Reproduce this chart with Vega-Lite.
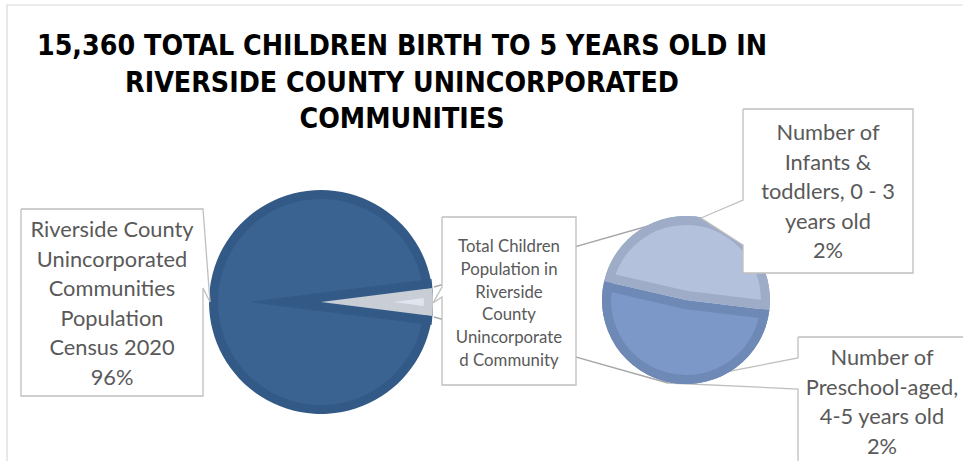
{
  "$schema": "https://vega.github.io/schema/vega-lite/v6.json",
  "width": 963,
  "height": 461,
  "autosize": "none",
  "padding": 0,
  "background": "white",
  "config": {"view": {"stroke": null}},
  "datasets": {
    "main": [
      {"seg": "Total Children Population in Riverside County Unincorporated Community", "v": 15360, "k": 0},
      {"seg": "Riverside County Unincorporated Communities Population Census 2020", "v": 368640, "k": 1}
    ],
    "kids": [
      {"seg": "Number of Infants & toddlers, 0 - 3 years old", "v": 7420, "k": 0},
      {"seg": "Number of Preschool-aged, 4-5 years old", "v": 7940, "k": 1}
    ],
    "connectors": [
      {"x": 434, "y": 287, "x2": 662, "y2": 222},
      {"x": 434, "y": 317, "x2": 668, "y2": 383}
    ],
    "callBack": [
      {"id": "pre", "i": 0, "x": 798, "y": 337},
      {"id": "pre", "i": 1, "x": 1000, "y": 337},
      {"id": "pre", "i": 2, "x": 1000, "y": 500},
      {"id": "pre", "i": 3, "x": 798, "y": 500},
      {"id": "pre", "i": 4, "x": 798, "y": 389},
      {"id": "pre", "i": 5, "x": 668, "y": 383},
      {"id": "pre", "i": 6, "x": 798, "y": 358},
      {"id": "pre", "i": 7, "x": 798, "y": 337}
    ],
    "callFront": [
      {"id": "left", "i": 0, "x": 21, "y": 209},
      {"id": "left", "i": 1, "x": 203, "y": 209},
      {"id": "left", "i": 2, "x": 210, "y": 302},
      {"id": "left", "i": 3, "x": 203, "y": 288},
      {"id": "left", "i": 4, "x": 203, "y": 396},
      {"id": "left", "i": 5, "x": 21, "y": 396},
      {"id": "left", "i": 6, "x": 21, "y": 209},
      {"id": "mid", "i": 0, "x": 442, "y": 217},
      {"id": "mid", "i": 1, "x": 576, "y": 217},
      {"id": "mid", "i": 2, "x": 576, "y": 385},
      {"id": "mid", "i": 3, "x": 442, "y": 385},
      {"id": "mid", "i": 4, "x": 442, "y": 297},
      {"id": "mid", "i": 5, "x": 433, "y": 303},
      {"id": "mid", "i": 6, "x": 442, "y": 287},
      {"id": "mid", "i": 7, "x": 442, "y": 217},
      {"id": "inf", "i": 0, "x": 743, "y": 109},
      {"id": "inf", "i": 1, "x": 913, "y": 109},
      {"id": "inf", "i": 2, "x": 913, "y": 273},
      {"id": "inf", "i": 3, "x": 743, "y": 273},
      {"id": "inf", "i": 4, "x": 743, "y": 245},
      {"id": "inf", "i": 5, "x": 701, "y": 218},
      {"id": "inf", "i": 6, "x": 743, "y": 200},
      {"id": "inf", "i": 7, "x": 743, "y": 109}
    ],
    "bigLabels": [
      {"text": ["Riverside County", "Unincorporated", "Communities", "Population", "Census 2020", "96%"], "x": 112, "y": 230},
      {"text": ["Number of", "Infants &", "toddlers, 0 - 3", "years old", "2%"], "x": 828, "y": 133},
      {"text": ["Number of", "Preschool-aged,", "4-5 years old", "2%"], "x": 882, "y": 358}
    ],
    "midLabel": [
      {"text": ["Total Children", "Population in", "Riverside", "County", "Unincorporate", "d Community"], "x": 509, "y": 247}
    ],
    "titleRow": [
      {"text": ["15,360 TOTAL CHILDREN BIRTH TO 5 YEARS OLD IN", "RIVERSIDE COUNTY UNINCORPORATED", "COMMUNITIES"], "x": 402, "y": 47}
    ]
  },
  "resolve": {"scale": {"theta": "independent"}},
  "layer": [
    {
      "data": {"values": [{}]},
      "mark": {"type": "rect", "fill": null, "stroke": "#d9d9d9", "strokeWidth": 1.2},
      "encoding": {
        "x": {"datum": 7, "type": "quantitative", "scale": {"domain": [0, 963], "nice": false, "zero": false}, "axis": null},
        "x2": {"datum": 1000},
        "y": {"datum": 5, "type": "quantitative", "scale": {"domain": [0, 461], "nice": false, "zero": false, "reverse": true}, "axis": null},
        "y2": {"datum": 500}
      }
    },
    {
      "data": {"name": "connectors"},
      "mark": {"type": "rule", "stroke": "#a6a6a6", "strokeWidth": 1.3},
      "encoding": {
        "x": {"field": "x", "type": "quantitative", "scale": {"domain": [0, 963], "nice": false, "zero": false}, "axis": null},
        "x2": {"field": "x2"},
        "y": {"field": "y", "type": "quantitative", "scale": {"domain": [0, 461], "nice": false, "zero": false, "reverse": true}, "axis": null},
        "y2": {"field": "y2"}
      }
    },
    {
      "data": {"name": "callBack"},
      "mark": {"type": "line", "fill": "white", "stroke": "#bfbfbf", "strokeWidth": 1.3},
      "encoding": {
        "x": {"field": "x", "type": "quantitative", "scale": {"domain": [0, 963], "nice": false, "zero": false}, "axis": null},
        "y": {"field": "y", "type": "quantitative", "scale": {"domain": [0, 461], "nice": false, "zero": false, "reverse": true}, "axis": null},
        "order": {"field": "i"},
        "detail": {"field": "id"}
      }
    },
    {
      "data": {"name": "main"},
      "mark": {"type": "arc", "radius": 105, "fill": "#3a6391"},
      "encoding": {
        "x": {"datum": 321, "type": "quantitative", "scale": {"domain": [0, 963], "nice": false, "zero": false}, "axis": null},
        "y": {"datum": 302, "type": "quantitative", "scale": {"domain": [0, 461], "nice": false, "zero": false, "reverse": true}, "axis": null},
        "theta": {"field": "v", "type": "quantitative", "stack": true, "scale": {"domain": [0, 384000], "range": [1.4451, 7.7283]}},
        "order": {"field": "k"},
        "detail": {"field": "seg"}
      }
    },
    {
      "data": {"name": "main"},
      "mark": {"type": "arc", "radius": 184, "xOffset": -72, "fill": "#335a87"},
      "encoding": {
        "x": {"datum": 321, "type": "quantitative", "scale": {"domain": [0, 963], "nice": false, "zero": false}, "axis": null},
        "y": {"datum": 302, "type": "quantitative", "scale": {"domain": [0, 461], "nice": false, "zero": false, "reverse": true}, "axis": null},
        "theta": {"field": "v", "type": "quantitative", "stack": true, "scale": {"domain": [0, 384000], "range": [1.4451, 7.7283]}},
        "order": {"field": "k"},
        "detail": {"field": "seg"},
        "fillOpacity": {"condition": {"test": "datum.k == 0", "value": 1}, "value": 0}
      }
    },
    {
      "data": {"name": "main"},
      "mark": {"type": "arc", "radius": 112, "fill": "#c8cdd6"},
      "encoding": {
        "x": {"datum": 321, "type": "quantitative", "scale": {"domain": [0, 963], "nice": false, "zero": false}, "axis": null},
        "y": {"datum": 302, "type": "quantitative", "scale": {"domain": [0, 461], "nice": false, "zero": false, "reverse": true}, "axis": null},
        "theta": {"field": "v", "type": "quantitative", "stack": true, "scale": {"domain": [0, 384000], "range": [1.4451, 7.7283]}},
        "order": {"field": "k"},
        "detail": {"field": "seg"},
        "fillOpacity": {"condition": {"test": "datum.k == 0", "value": 1}, "value": 0}
      }
    },
    {
      "data": {"name": "main"},
      "mark": {"type": "arc", "radius": 31, "xOffset": 72, "fill": "#dfe4ee"},
      "encoding": {
        "x": {"datum": 321, "type": "quantitative", "scale": {"domain": [0, 963], "nice": false, "zero": false}, "axis": null},
        "y": {"datum": 302, "type": "quantitative", "scale": {"domain": [0, 461], "nice": false, "zero": false, "reverse": true}, "axis": null},
        "theta": {"field": "v", "type": "quantitative", "stack": true, "scale": {"domain": [0, 384000], "range": [1.4451, 7.7283]}},
        "order": {"field": "k"},
        "detail": {"field": "seg"},
        "fillOpacity": {"condition": {"test": "datum.k == 0", "value": 1}, "value": 0}
      }
    },
    {
      "data": {"name": "main"},
      "mark": {"type": "arc", "radius": 112, "innerRadius": 103},
      "encoding": {
        "x": {"datum": 321, "type": "quantitative", "scale": {"domain": [0, 963], "nice": false, "zero": false}, "axis": null},
        "y": {"datum": 302, "type": "quantitative", "scale": {"domain": [0, 461], "nice": false, "zero": false, "reverse": true}, "axis": null},
        "theta": {"field": "v", "type": "quantitative", "stack": true, "scale": {"domain": [0, 384000], "range": [1.4451, 7.7283]}},
        "order": {"field": "k"},
        "detail": {"field": "seg"},
        "fill": {"condition": {"test": "datum.k == 0", "value": "#c8cdd6"}, "value": "#335a87"}
      }
    },
    {
      "data": {"name": "kids"},
      "mark": {"type": "arc", "radius": 84},
      "encoding": {
        "x": {"datum": 686, "type": "quantitative", "scale": {"domain": [0, 963], "nice": false, "zero": false}, "axis": null},
        "y": {"datum": 300, "type": "quantitative", "scale": {"domain": [0, 461], "nice": false, "zero": false, "reverse": true}, "axis": null},
        "theta": {"field": "v", "type": "quantitative", "stack": true, "scale": {"domain": [0, 15360], "range": [4.939, 11.222]}},
        "order": {"field": "k"},
        "detail": {"field": "seg"},
        "fill": {"condition": {"test": "datum.k == 0", "value": "#9eacc8"}, "value": "#6e89b5"}
      }
    },
    {
      "data": {"name": "kids"},
      "mark": {"type": "arc", "radius": 75, "xOffset": 1.6, "yOffset": -8.9, "fill": "#b4c1dc"},
      "encoding": {
        "x": {"datum": 686, "type": "quantitative", "scale": {"domain": [0, 963], "nice": false, "zero": false}, "axis": null},
        "y": {"datum": 300, "type": "quantitative", "scale": {"domain": [0, 461], "nice": false, "zero": false, "reverse": true}, "axis": null},
        "theta": {"field": "v", "type": "quantitative", "stack": true, "scale": {"domain": [0, 15360], "range": [4.939, 11.222]}},
        "order": {"field": "k"},
        "detail": {"field": "seg"},
        "fillOpacity": {"condition": {"test": "datum.k == 0", "value": 1}, "value": 0}
      }
    },
    {
      "data": {"name": "kids"},
      "mark": {"type": "arc", "radius": 75, "xOffset": -1.6, "yOffset": 8.9, "fill": "#7b98c9"},
      "encoding": {
        "x": {"datum": 686, "type": "quantitative", "scale": {"domain": [0, 963], "nice": false, "zero": false}, "axis": null},
        "y": {"datum": 300, "type": "quantitative", "scale": {"domain": [0, 461], "nice": false, "zero": false, "reverse": true}, "axis": null},
        "theta": {"field": "v", "type": "quantitative", "stack": true, "scale": {"domain": [0, 15360], "range": [4.939, 11.222]}},
        "order": {"field": "k"},
        "detail": {"field": "seg"},
        "fillOpacity": {"condition": {"test": "datum.k == 1", "value": 1}, "value": 0}
      }
    },
    {
      "data": {"name": "kids"},
      "mark": {"type": "arc", "radius": 84, "innerRadius": 75},
      "encoding": {
        "x": {"datum": 686, "type": "quantitative", "scale": {"domain": [0, 963], "nice": false, "zero": false}, "axis": null},
        "y": {"datum": 300, "type": "quantitative", "scale": {"domain": [0, 461], "nice": false, "zero": false, "reverse": true}, "axis": null},
        "theta": {"field": "v", "type": "quantitative", "stack": true, "scale": {"domain": [0, 15360], "range": [4.939, 11.222]}},
        "order": {"field": "k"},
        "detail": {"field": "seg"},
        "fill": {"condition": {"test": "datum.k == 0", "value": "#9eacc8"}, "value": "#6e89b5"}
      }
    },
    {
      "data": {"name": "callFront"},
      "mark": {"type": "line", "fill": "white", "stroke": "#bfbfbf", "strokeWidth": 1.3},
      "encoding": {
        "x": {"field": "x", "type": "quantitative", "scale": {"domain": [0, 963], "nice": false, "zero": false}, "axis": null},
        "y": {"field": "y", "type": "quantitative", "scale": {"domain": [0, 461], "nice": false, "zero": false, "reverse": true}, "axis": null},
        "order": {"field": "i"},
        "detail": {"field": "id"}
      }
    },
    {
      "data": {"name": "bigLabels"},
      "mark": {"type": "text", "font": "Lato", "fontSize": 21.8, "lineHeight": 29.5, "align": "center", "baseline": "middle", "color": "#595959"},
      "encoding": {
        "x": {"field": "x", "type": "quantitative", "scale": {"domain": [0, 963], "nice": false, "zero": false}, "axis": null},
        "y": {"field": "y", "type": "quantitative", "scale": {"domain": [0, 461], "nice": false, "zero": false, "reverse": true}, "axis": null},
        "text": {"field": "text"}
      }
    },
    {
      "data": {"name": "midLabel"},
      "mark": {"type": "text", "font": "Lato", "fontSize": 16.8, "lineHeight": 22.8, "align": "center", "baseline": "middle", "color": "#595959"},
      "encoding": {
        "x": {"field": "x", "type": "quantitative", "scale": {"domain": [0, 963], "nice": false, "zero": false}, "axis": null},
        "y": {"field": "y", "type": "quantitative", "scale": {"domain": [0, 461], "nice": false, "zero": false, "reverse": true}, "axis": null},
        "text": {"field": "text"}
      }
    },
    {
      "data": {"name": "titleRow"},
      "mark": {"type": "text", "font": "Liberation Sans Narrow, Arial Narrow, DejaVu Sans Condensed", "fontSize": 28.3, "fontWeight": "bold", "lineHeight": 36.5, "align": "center", "baseline": "middle", "color": "#000000"},
      "encoding": {
        "x": {"field": "x", "type": "quantitative", "scale": {"domain": [0, 963], "nice": false, "zero": false}, "axis": null},
        "y": {"field": "y", "type": "quantitative", "scale": {"domain": [0, 461], "nice": false, "zero": false, "reverse": true}, "axis": null},
        "text": {"field": "text"}
      }
    }
  ]
}
